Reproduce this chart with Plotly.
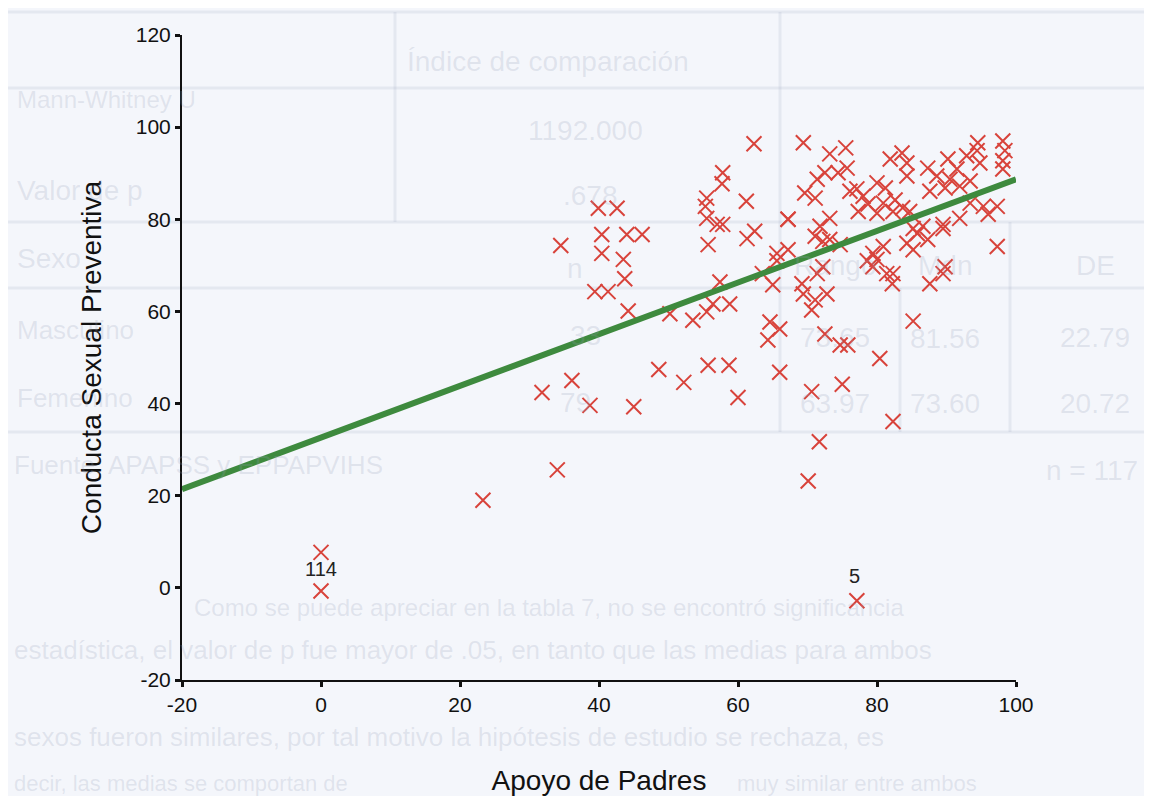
import plotly.graph_objects as go

# Data
apoyo_padres = [
    0.0, 0.0, 23.3, 34.0, 31.8, 36.1, 38.7, 45.0, 34.5, 39.9,
    42.6, 40.4, 44.0, 46.2, 40.4, 43.5, 43.7, 39.4, 41.3, 44.2,
    48.6, 52.2, 55.7, 58.7, 60.0, 50.2, 53.5, 55.5, 56.4, 58.8,
    57.4, 55.7, 57.0, 57.8, 55.5, 55.3, 55.5, 57.7, 57.8, 61.2,
    61.3, 62.4, 62.3, 65.6, 65.0, 64.6, 64.3, 66.0, 66.0, 67.2,
    65.6, 71.1, 72.2, 73.2, 74.7, 63.5, 69.2, 69.4, 72.2, 71.4,
    72.8, 71.1, 70.6, 72.5, 74.7, 75.8, 80.4, 75.0, 70.6, 82.3,
    71.7, 70.1, 77.1, 85.2, 82.2, 87.6, 89.5, 81.4, 78.6, 79.4,
    79.4, 97.3, 89.8, 80.9, 80.0, 82.3, 84.3, 85.2, 87.3, 89.5,
    85.8, 69.4, 73.2, 75.5, 75.7, 74.4, 72.5, 71.4, 69.6, 71.1,
    76.1, 77.1, 78.0, 78.7, 77.3, 67.2, 67.2, 73.2, 71.8, 80.0,
    83.6, 84.3, 84.3, 81.9, 81.2, 87.3, 90.2, 91.5, 92.9, 94.5,
    94.4, 98.1, 98.4, 98.1, 98.1, 94.8, 90.5, 89.8, 91.9, 87.6,
    93.4, 80.9, 82.6, 83.7, 84.7, 82.3, 80.0, 93.4, 95.3, 97.3,
    96.0, 91.9, 89.5, 86.6, 85.2, 88.6,
]
conducta_sexual = [
    7.7, -0.7, 19.0, 25.6, 42.4, 45.0, 39.6, 39.3, 74.3, 82.4,
    82.4, 76.7, 76.7, 76.7, 72.6, 71.3, 67.1, 64.3, 64.3, 60.1,
    47.4, 44.6, 48.3, 48.3, 41.3, 59.5, 58.1, 59.9, 61.6, 61.6,
    66.4, 74.5, 78.9, 78.9, 80.2, 82.8, 84.6, 87.7, 90.1, 83.9,
    75.8, 77.4, 96.4, 72.6, 65.8, 57.7, 53.8, 46.8, 56.2, 73.4,
    71.0, 76.3, 75.2, 75.6, 74.5, 68.2, 66.0, 63.8, 69.7, 68.2,
    63.8, 62.5, 60.3, 55.1, 52.7, 52.7, 49.8, 44.2, 42.6, 36.1,
    31.7, 23.2, -2.8, 57.9, 66.0, 66.0, 68.2, 68.2, 71.0, 69.7,
    72.6, 74.1, 69.7, 74.1, 71.3, 68.2, 74.8, 73.4, 75.6, 78.0,
    76.9, 96.6, 94.2, 95.5, 91.1, 90.1, 90.1, 88.7, 85.7, 84.6,
    86.1, 86.6, 85.0, 83.3, 81.7, 80.0, 80.0, 80.2, 78.5, 87.9,
    94.4, 92.2, 89.4, 93.1, 86.8, 91.1, 93.1, 90.9, 93.8, 96.6,
    94.9, 97.0, 94.9, 92.7, 90.9, 92.2, 88.7, 86.8, 87.2, 86.1,
    88.3, 83.5, 84.2, 82.5, 81.7, 81.7, 81.3, 83.5, 82.8, 82.8,
    81.1, 80.2, 78.9, 78.5, 78.0, 89.4,
]

# Fitted regression line endpoints
fit_x = [-20, 100]
fit_y = [21.4, 88.7]

# Case labels
label_text = ["114", "5"]
label_x = [0.0, 76.8]
label_y = [4.2, 2.6]

x_ticks = [-20, 0, 20, 40, 60, 80, 100]
y_ticks = [-20, 0, 20, 40, 60, 80, 100, 120]
x_tick_text = ["-20", "0", "20", "40", "60", "80", "100"]
y_tick_text = ["-20", "0", "20", "40", "60", "80", "100", "120"]

# Faint text showing through from the scanned page behind the chart
bleed_text = [
    "Índice de comparación", "Mann-Whitney U", "1192.000", "Valor de p", ".678",
    "Sexo", "n", "Rango", "Mdn", "DE",
    "Masculino", "33", "73.65", "81.56", "22.79",
    "Femenino", "79", "63.97", "73.60", "20.72",
    "Fuente: APAPSS y EPPAPVIHS", "n = 117",
    "Como se puede apreciar en la tabla 7, no se encontró significancia",
    "estadística, el valor de p fue mayor de .05, en tanto que las medias para ambos",
    "sexos fueron similares, por tal motivo la hipótesis de estudio se rechaza, es",
    "decir, las medias se comportan de", "muy similar entre ambos",
]

FONT = "Liberation Sans, Arial, sans-serif"

# page offset (browser body margin)
OFF = 8
PL, PR, PT, PB = 182, 1016, 35, 680   # plot area in screenshot pixels


def px_to_paper(px, py):
    return (px - PL) / (PR - PL), (PB - py) / (PB - PT)


# screenshot pixel anchors for the bleed text (x, y, xanchor, size)
bleed_pos = [
    (405, 62, "left", 28), (15, 100, "left", 24), (585, 130, "center", 28), (15, 190, "left", 28), (590, 195, "center", 28),
    (15, 258, "left", 28), (575, 268, "center", 28), (835, 265, "center", 28), (945, 265, "center", 28), (1095, 265, "center", 28),
    (15, 330, "left", 26), (585, 335, "center", 28), (835, 337, "center", 28), (945, 338, "center", 28), (1095, 337, "center", 28),
    (15, 398, "left", 26), (575, 402, "center", 28), (835, 404, "center", 28), (945, 404, "center", 28), (1095, 403, "center", 28),
    (12, 465, "left", 26), (1140, 470, "right", 28),
    (192, 607, "left", 24), (12, 650, "left", 26), (12, 737, "left", 26),
    (12, 783, "left", 22), (735, 783, "left", 22),
]

fig = go.Figure()

BLEED = "rgba(150,160,185,0.22)"
for t, (bx, by, anc, fs) in zip(bleed_text, bleed_pos):
    px_, py_ = px_to_paper(bx, by)
    fig.add_annotation(x=px_, y=py_, xref="paper", yref="paper", text=t,
                       showarrow=False, xanchor=anc, yanchor="middle",
                       font=dict(family=FONT, size=fs, color=BLEED))

# faint table rules
RULE = "rgba(150,160,185,0.16)"
for yy in [12, 88, 222, 288, 432]:
    _, py_ = px_to_paper(0, yy)
    x0, _ = px_to_paper(8, 0)
    x1, _ = px_to_paper(1152, 0)
    fig.add_shape(type="line", xref="paper", yref="paper", x0=x0, x1=x1, y0=py_, y1=py_,
                  line=dict(color=RULE, width=3), layer="below")
for xx, ya, yb in [(395, 12, 222), (780, 12, 432), (900, 288, 432), (1010, 222, 432)]:
    px_, _ = px_to_paper(xx, 0)
    _, y0 = px_to_paper(0, ya)
    _, y1 = px_to_paper(0, yb)
    fig.add_shape(type="line", xref="paper", yref="paper", x0=px_, x1=px_, y0=y0, y1=y1,
                  line=dict(color=RULE, width=3), layer="below")

fig.add_trace(go.Scatter(
    x=apoyo_padres, y=conducta_sexual, mode="markers",
    marker=dict(symbol="x-thin-open", size=15, color="#d8433b",
                line=dict(color="#d8433b", width=2)),
    showlegend=False, hoverinfo="x+y",
))

fig.add_trace(go.Scatter(
    x=fit_x, y=fit_y, mode="lines",
    line=dict(color="#3e8a3e", width=6),
    showlegend=False, hoverinfo="skip",
))

for t, lx, ly in zip(label_text, label_x, label_y):
    fig.add_annotation(x=lx, y=ly, text=t, showarrow=False,
                       font=dict(family=FONT, size=20, color="#222"))

fig.update_layout(
    width=1152, height=796,
    margin=dict(l=PL - OFF, r=1152 - PR + OFF, t=PT - OFF, b=796 - PB + OFF),
    paper_bgcolor="#f4f6fb",
    plot_bgcolor="rgba(0,0,0,0)",
    font=dict(family=FONT, color="#111"),
)

fig.update_xaxes(
    range=[-20, 100], tickvals=x_ticks, ticktext=x_tick_text,
    showline=True, linecolor="#111", linewidth=2,
    ticks="outside", ticklen=5, tickwidth=3, tickcolor="#111",
    showgrid=False, zeroline=False,
    tickfont=dict(family=FONT, size=21, color="#111"),
    title=dict(text="Apoyo de Padres", standoff=55,
               font=dict(family=FONT, size=28, color="#111")),
)
fig.update_yaxes(
    range=[-20, 120], tickvals=y_ticks, ticktext=y_tick_text,
    showline=True, linecolor="#111", linewidth=2,
    ticks="outside", ticklen=5, tickwidth=3, tickcolor="#111",
    showgrid=False, zeroline=False,
    tickfont=dict(family=FONT, size=21, color="#111"),
    title=dict(text="Conducta Sexual Preventiva", standoff=26,
               font=dict(family=FONT, size=28, color="#111")),
)

fig.write_html("out.html")
